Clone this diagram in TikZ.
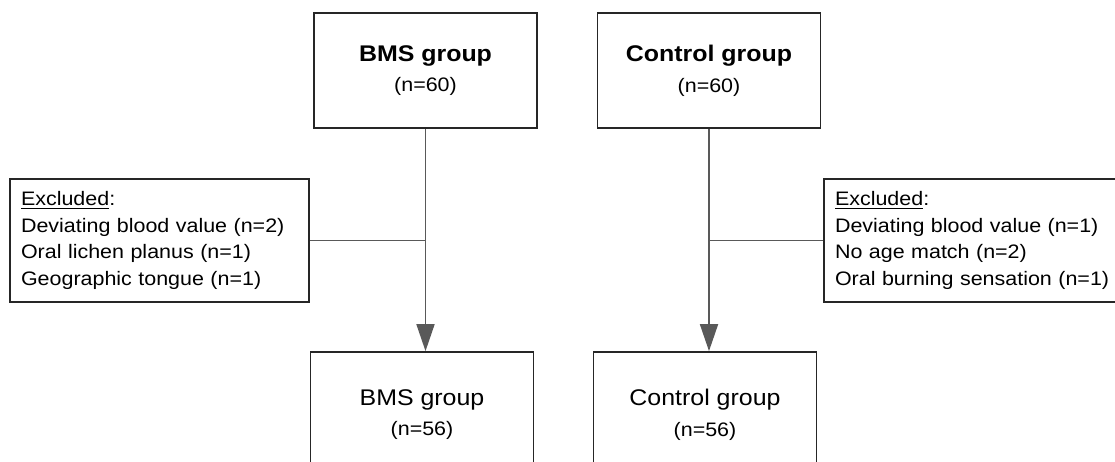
\documentclass[tikz,border=0pt]{standalone}
\usepackage{fontspec}
\setmainfont{Liberation Sans}[FakeStretch=1.1]
\usetikzlibrary{arrows.meta}

\newcommand\grpfont{\fontsize{12.9pt}{17.5pt}\selectfont}
\newcommand\nfont{\fontsize{11.1pt}{17.5pt}\selectfont}
\newcommand\exclfont{\fontsize{11.1pt}{15.3pt}\selectfont}

\tikzset{
  grpbox/.style={draw=black!85, line width=1pt, minimum width=4.46cm,
    minimum height=2.3cm, align=center, inner sep=0pt, font=\grpfont},
  exclbox/.style={draw=black!85, line width=1pt, text width=5.54cm,
    minimum height=2.46cm, inner xsep=0.22cm, align=left, font=\exclfont},
  flow/.style={draw=black!65, line width=1pt},
  flowarrow/.style={flow, -{Triangle[length=0.54cm, width=0.36cm]}},
}

\begin{document}
\begin{tikzpicture}[x=0.02cm, y=-0.02cm]
\path[use as bounding box] (0,0) rectangle (1115,462);
\clip (0,0) rectangle (1115,462);

% groups at inclusion
\node[grpbox] (bms) at (425.5,70.5) {\textbf{BMS group}\\{\nfont (n=60)}};
\node[grpbox] (ctl) at (709,70.5) {\textbf{Control group}\\{\nfont (n=60)}};

% exclusions
\node[exclbox] (exbms) at (159.5,240.5) {\underline{Excluded}:\\
  Deviating blood value (n=2)\\
  Oral lichen planus (n=1)\\
  Geographic tongue (n=1)};
\node[exclbox] (exctl) at (973.5,240.5) {\underline{Excluded}:\\
  Deviating blood value (n=1)\\
  No age match (n=2)\\
  Oral burning sensation (n=1)};

% final groups
\node[grpbox, minimum height=2.5cm] (bmsend) at (422,414.5) {BMS group\\{\nfont (n=56)}};
\node[grpbox, minimum height=2.5cm] (ctlend) at (705,414.5) {Control group\\{\nfont (n=56)}};

\draw[flowarrow] (bms.south) -- (bms.south |- bmsend.north);
\draw[flowarrow] (ctl.south) -- (ctl.south |- ctlend.north);
\draw[flow] (exbms.east) -- (exbms.east -| bms.south);
\draw[flow] (exctl.west) -- (exctl.west -| ctl.south);
\end{tikzpicture}
\end{document}
